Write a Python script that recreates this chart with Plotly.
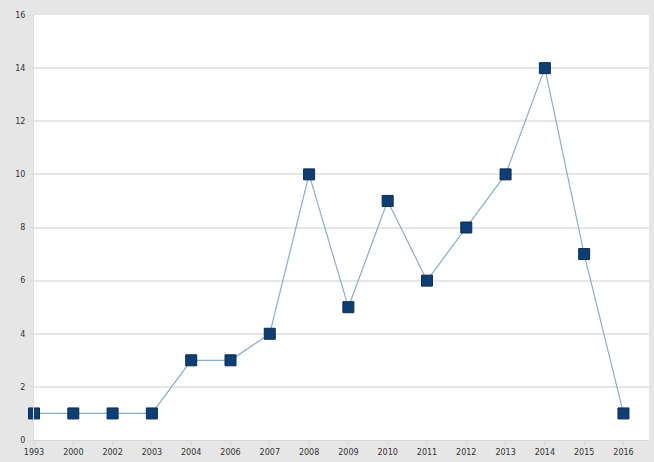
import plotly.graph_objects as go

years = ["1993", "2000", "2002", "2003", "2004", "2006", "2007", "2008",
         "2009", "2010", "2011", "2012", "2013", "2014", "2015", "2016"]
counts = [1, 1, 1, 1, 3, 3, 4, 10, 5, 9, 6, 8, 10, 14, 7, 1]
y_ticks = [0, 2, 4, 6, 8, 10, 12, 14, 16]

fig = go.Figure()
fig.add_trace(go.Scatter(
    x=list(range(len(years))), y=counts, mode="lines+markers",
    line=dict(color="#86afcf", width=1.2),
    marker=dict(symbol="square", size=11, color="#0f3f72",
                line=dict(color="#0a2d55", width=1)),
    cliponaxis=False, showlegend=False,
))

fig.update_layout(
    width=654, height=462,
    margin=dict(l=34, r=5, t=15, b=22),
    paper_bgcolor="#e6e6e6", plot_bgcolor="#ffffff",
    font=dict(family="DejaVu Sans", size=8, color="#444444"),
    xaxis=dict(
        tickmode="array", tickvals=list(range(len(years))), ticktext=years,
        range=[0, 15.65], showgrid=False, zeroline=False,
        showline=True, linecolor="#d6d6d6", linewidth=1,
        ticks="outside", ticklen=4, tickcolor="#d6d6d6",
        tickfont=dict(size=8, color="#333333"),
    ),
    yaxis=dict(
        tickmode="array", tickvals=y_ticks, range=[0, 16],
        showgrid=True, gridcolor="#e6e6e6", gridwidth=1.5,
        zeroline=False, showline=True, linecolor="#dcdcdc", linewidth=1,
        ticks="outside", ticklen=6, tickcolor="#dcdcdc",
        tickfont=dict(size=8, color="#333333"),
    ),
)

fig.write_html("out.html")
